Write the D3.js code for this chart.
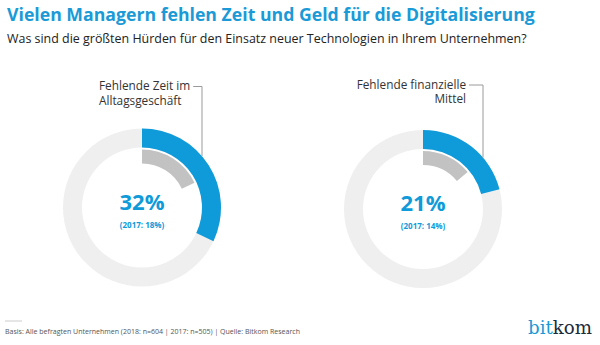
<!DOCTYPE html>
<html>
<head>
<meta charset="utf-8">
<script src="https://cdn.jsdelivr.net/npm/d3@7"></script>
<style>
  body { margin: 0; background: #fff; }
  svg { display: block; font-family: "Open Sans", "Noto Sans", sans-serif; }
</style>
</head>
<body>
<svg id="chart" width="600" height="345"></svg>
<script>
// data
const categories = ["Fehlende Zeit im Alltagsgeschäft", "Fehlende finanzielle Mittel"];
const labelLines = [["Fehlende Zeit im", "Alltagsgeschäft"], ["Fehlende finanzielle", "Mittel"]];
const values2018 = [32, 21];
const values2017 = [18, 14];

const title = "Vielen Managern fehlen Zeit und Geld für die Digitalisierung";
const subtitle = "Was sind die größten Hürden für den Einsatz neuer Technologien in Ihrem Unternehmen?";
const footnote = "Basis: Alle befragten Unternehmen (2018: n=604 | 2017: n=505) | Quelle: Bitkom Research";

const blue = "#0f9ad9";
const svg = d3.select("#chart");

// shrink/grow font so the text spans the wanted width
function fit(sel, width) {
  const fs = +sel.attr("font-size");
  const w = sel.node().getComputedTextLength();
  sel.attr("font-size", (fs * width / w).toFixed(2));
  return sel;
}

// header
fit(svg.append("text")
  .attr("x", 7).attr("y", 21)
  .attr("font-size", 20).attr("font-weight", 700)
  .attr("fill", "#1a9ad6")
  .text(title), 528);

fit(svg.append("text")
  .attr("x", 7).attr("y", 43)
  .attr("font-size", 13.5).attr("fill", "#222")
  .text(subtitle), 520);

// donuts
const x = d3.scalePoint().domain(categories).range([142, 423]);
const cyList = [207.5, 209];
const angle = d3.scaleLinear().domain([0, 100]).range([0, 2 * Math.PI]);
const rOuter = 79, rInner = 60, gOuter = 58, gInner = 44;

const outerArc = d3.arc().innerRadius(rInner).outerRadius(rOuter).startAngle(0);
const innerArc = d3.arc().innerRadius(gInner).outerRadius(gOuter).startAngle(0);

categories.forEach((c, i) => {
  const g = svg.append("g").attr("transform", `translate(${x(c)},${cyList[i]})`);

  g.append("path").attr("d", outerArc({endAngle: angle(100)})).attr("fill", "#efefef");
  g.append("path").attr("d", outerArc({endAngle: angle(values2018[i])})).attr("fill", blue);
  g.append("path").attr("d", innerArc({endAngle: angle(values2017[i])})).attr("fill", "#c2c2c2");

  g.append("text")
    .attr("text-anchor", "middle").attr("y", 2)
    .attr("font-size", 22).attr("font-weight", 700).attr("fill", blue)
    .text(values2018[i] + "%");
  g.append("text")
    .attr("text-anchor", "middle").attr("y", 20)
    .attr("font-size", 8).attr("font-weight", 700).attr("fill", blue)
    .text(`(2017: ${values2017[i]}%)`);

  // label + leader line
  const lx = 60;
  const ly = -Math.sqrt(rOuter * rOuter - lx * lx);
  const left = i === 0;
  const textX = left ? 99 - x(c) : 466 - x(c);
  const lineY = left ? -121 : -124;
  const lab = g.append("text")
    .attr("font-size", 11.8).attr("fill", "#333")
    .attr("text-anchor", left ? "start" : "end");
  labelLines[i].forEach((t, k) => {
    lab.append("tspan").attr("x", textX).attr("y", lineY + 3.5 + k * 14.5).text(t);
  });
  const tEnd = left ? lab.select("tspan").node().getComputedTextLength() + textX : textX;
  g.append("path")
    .attr("d", `M${tEnd + 3},${lineY}H${lx}V${ly}`)
    .attr("fill", "none").attr("stroke", "#9a9a9a").attr("stroke-width", 1);
});

// footer
svg.append("line")
  .attr("x1", 5).attr("x2", 22).attr("y1", 321).attr("y2", 321)
  .attr("stroke", "#ccc").attr("stroke-width", 1);
fit(svg.append("text")
  .attr("x", 5).attr("y", 334)
  .attr("font-size", 8).attr("fill", "#555")
  .text(footnote), 295);

const logo = svg.append("text")
  .attr("x", 528).attr("y", 334)
  .attr("font-family", "DejaVu Serif, serif").attr("font-size", 20);
logo.append("tspan").attr("fill", "#1a9ad6").text("bit");
logo.append("tspan").attr("fill", "#1b2a3a").text("kom");
fit(logo, 64);
</script>
</body>
</html>
